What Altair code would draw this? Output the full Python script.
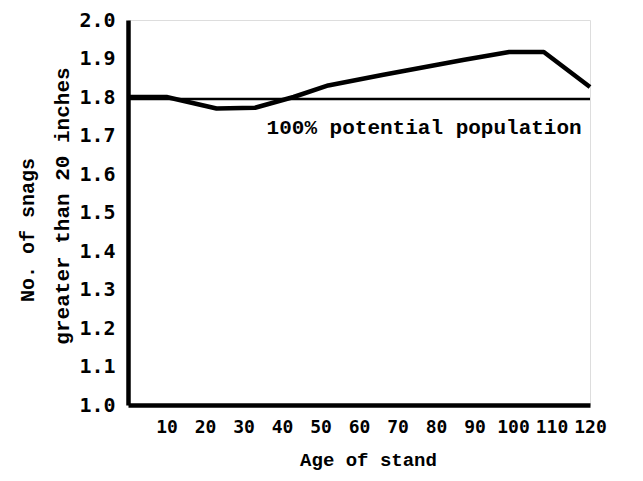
import altair as alt
import pandas as pd

# Data
ages = [0, 10, 23, 33, 43, 52, 66, 87, 99, 108, 120]
snags = [1.80, 1.80, 1.77, 1.772, 1.80, 1.83, 1.857, 1.896, 1.917, 1.917, 1.826]
potential_value = 1.795
potential_label = "100% potential population"
x_ticks = [10, 20, 30, 40, 50, 60, 70, 80, 90, 100, 110, 120]
y_ticks = [1.0, 1.1, 1.2, 1.3, 1.4, 1.5, 1.6, 1.7, 1.8, 1.9, 2.0]
y_title_lines = ["No. of snags", "greater than 20 inches"]

df = pd.DataFrame({"age": ages, "snags": snags})
ref = pd.DataFrame({"x0": [0], "x1": [120], "y": [potential_value]})
lab = pd.DataFrame({"x": [36], "y": [1.72], "t": [potential_label]})

xscale = alt.Scale(domain=[0, 120], nice=False, zero=False)
yscale = alt.Scale(domain=[1.0, 2.0], nice=False, zero=False)

xaxis = alt.Axis(values=x_ticks, title="Age of stand", ticks=False, grid=False,
                 domainWidth=4.5, domainColor="black", labelFont="DejaVu Sans Mono",
                 labelFontWeight="bold", labelFontSize=18, labelColor="black",
                 labelPadding=13, titleFont="Liberation Mono", titleFontSize=19,
                 titleFontWeight="bold", titleColor="black", titlePadding=14,
                 titleX=240, labelFlush=False, labelOverlap=False)
yaxis = alt.Axis(values=y_ticks, format=".1f", title=None, ticks=False, grid=False,
                 domainWidth=4.5, domainColor="black", labelFont="DejaVu Sans Mono",
                 labelFontWeight="bold", labelFontSize=20, labelColor="black",
                 labelPadding=13, labelFlush=False, labelOverlap=False)

X = lambda f: alt.X(f, scale=xscale, axis=xaxis)
Y = lambda f: alt.Y(f, scale=yscale, axis=yaxis)

rule = alt.Chart(ref).mark_rule(color="black", strokeWidth=2.5).encode(
    x=X("x0:Q"), x2="x1:Q", y=Y("y:Q")
)

line = alt.Chart(df).mark_line(color="black", strokeWidth=4.5, strokeJoin="round").encode(
    x=X("age:Q"), y=Y("snags:Q")
)

text = alt.Chart(lab).mark_text(align="left", baseline="middle", font="Liberation Mono",
                                fontSize=21, fontWeight="bold", color="black").encode(
    x=X("x:Q"), y=Y("y:Q"), text="t:N"
)

ytitle1 = alt.Chart(pd.DataFrame({"t": [y_title_lines[0]]})).mark_text(
    angle=270, align="center", baseline="middle", font="Liberation Mono",
    fontSize=20, fontWeight="bold", color="black"
).encode(x=alt.value(-100), y=alt.value(210), text="t:N")

ytitle2 = alt.Chart(pd.DataFrame({"t": [y_title_lines[1]]})).mark_text(
    angle=270, align="center", baseline="middle", font="Liberation Mono",
    fontSize=21, fontWeight="bold", color="black"
).encode(x=alt.value(-65), y=alt.value(186), text="t:N")

chart = alt.layer(rule, line, text, ytitle1, ytitle2).properties(
    width=462, height=385,
    autosize=alt.AutoSizeParams(type="none"),
    padding={"left": 120, "top": 12, "right": 45, "bottom": 68},
).configure_view(stroke=None).configure(background="white")

chart.save("out.html", embed_options={"renderer": "svg", "actions": False})
